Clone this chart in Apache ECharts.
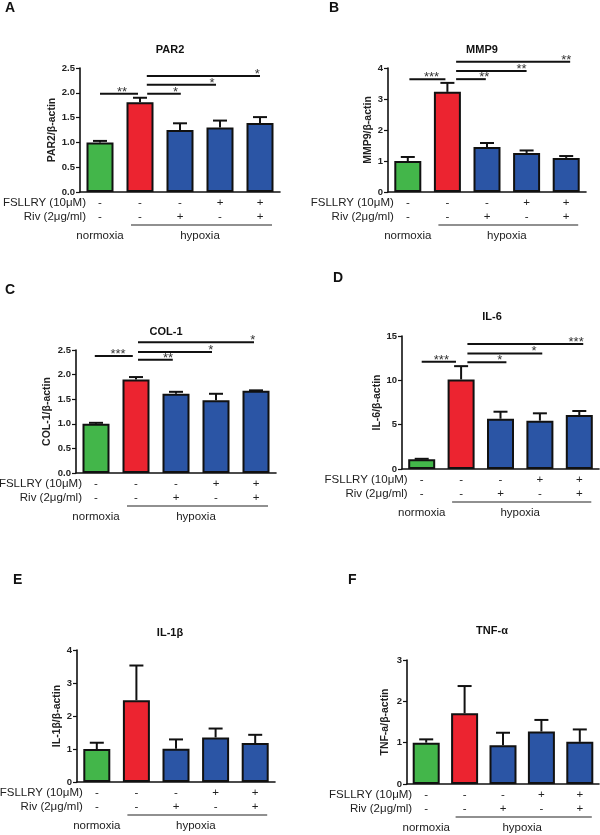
<!DOCTYPE html>
<html>
<head>
<meta charset="utf-8">
<script src="https://cdn.jsdelivr.net/npm/echarts@6/dist/echarts.min.js"></script>
<style>
  html, body { margin: 0; padding: 0; background: #fff; }
  #chart { width: 600px; height: 835px; }
</style>
</head>
<body>
<div id="chart"></div>
<script>
  // 处理组
  const groups = ['normoxia', 'hypoxia', 'hypoxia + Riv', 'hypoxia + FSLLRY', 'hypoxia + FSLLRY + Riv']
  const fsllry = ['-', '-', '-', '+', '+']
  const riv = ['-', '-', '+', '-', '+']
  const barColors = ['#43b64a', '#ec2430', '#2b55a5', '#2b55a5', '#2b55a5']

  // 均值 / 误差上限
  const par2Mean = [1.0, 1.81, 1.25, 1.30, 1.39]
  const par2Err = [1.03, 1.90, 1.385, 1.44, 1.51]
  const mmp9Mean = [1.0, 3.23, 1.45, 1.26, 1.10]
  const mmp9Err = [1.13, 3.52, 1.58, 1.34, 1.16]
  const col1Mean = [1.0, 1.90, 1.61, 1.48, 1.67]
  const col1Err = [1.02, 1.95, 1.65, 1.61, 1.68]
  const il6Mean = [1.1, 10.1, 5.67, 5.45, 6.09]
  const il6Err = [1.15, 11.6, 6.46, 6.28, 6.54]
  const il1bMean = [1.0, 2.48, 1.01, 1.35, 1.18]
  const il1bErr = [1.19, 3.53, 1.29, 1.62, 1.43]
  const tnfMean = [1.0, 1.71, 0.94, 1.27, 1.02]
  const tnfErr = [1.08, 2.37, 1.24, 1.55, 1.32]

  // 显著性标记: [起点, 终点, y值, 星号位置, 文字]
  const par2Sig = [[0, 0.95, 1.98, 0.55, '**'], [1.18, 2.02, 1.98, 1.89, '*'], [1.17, 2.9, 2.16, 2.8, '*'], [1.17, 4.0, 2.34, 3.93, '*']]
  const mmp9Sig = [[0.04, 0.95, 3.64, 0.6, '***'], [1.22, 1.97, 3.64, 1.93, '**'], [1.22, 3.0, 3.9, 2.87, '**'], [1.22, 4.1, 4.2, 4.0, '**']]
  const col1Sig = [[-0.03, 0.92, 2.38, 0.55, '***'], [1.05, 1.92, 2.30, 1.8, '**'], [1.05, 2.9, 2.46, 2.87, '*'], [1.05, 3.95, 2.66, 3.92, '*']]
  const il6Sig = [[0, 0.87, 12.1, 0.5, '***'], [1.16, 2.15, 12.03, 1.98, '*'], [1.16, 3.06, 13.04, 2.85, '*'], [1.16, 4.1, 14.1, 3.92, '***']]

  const FONT = '"Liberation Sans", Arial, sans-serif'

  const panels = [
    { letter: 'A', title: 'PAR2', yName: 'PAR2/β-actin', mean: par2Mean, err: par2Err, sig: par2Sig, max: 2.5, interval: 0.5, dec: 1,
      grid: { left: 80, top: 68, width: 200, height: 124 }, titleXY: [170, 50], letterXY: [5, 1], nameGap: 21 },
    { letter: 'B', title: 'MMP9', yName: 'MMP9/β-actin', mean: mmp9Mean, err: mmp9Err, sig: mmp9Sig, max: 4, interval: 1, dec: 0,
      grid: { left: 388, top: 68, width: 198, height: 124 }, titleXY: [482, 50], letterXY: [329, 1], nameGap: 14 },
    { letter: 'C', title: 'COL-1', yName: 'COL-1/β-actin', mean: col1Mean, err: col1Err, sig: col1Sig, max: 2.5, interval: 0.5, dec: 1,
      grid: { left: 76, top: 350, width: 200, height: 123 }, titleXY: [166, 332], letterXY: [5, 283], nameGap: 23 },
    { letter: 'D', title: 'IL-6', yName: 'IL-6/β-actin', mean: il6Mean, err: il6Err, sig: il6Sig, max: 15, interval: 5, dec: 0,
      grid: { left: 402, top: 336, width: 197, height: 133 }, titleXY: [492, 317], letterXY: [333, 271], nameGap: 19 },
    { letter: 'E', title: 'IL-1β', yName: 'IL-1β/β-actin', mean: il1bMean, err: il1bErr, sig: [], max: 4, interval: 1, dec: 0,
      grid: { left: 77, top: 650, width: 198, height: 132 }, titleXY: [170, 633], letterXY: [13, 573], nameGap: 14 },
    { letter: 'F', title: 'TNF-α', yName: 'TNF-a/β-actin', mean: tnfMean, err: tnfErr, sig: [], max: 3, interval: 1, dec: 0,
      grid: { left: 407, top: 660, width: 192, height: 124 }, titleXY: [492, 631], letterXY: [348, 573], nameGap: 16 }
  ]

  function getOption () {
    let option = {
      animation: false,
      backgroundColor: '#fff',
      textStyle: { fontFamily: FONT },
      grid: [],
      xAxis: [],
      yAxis: [],
      series: [],
      graphic: []
    }
    panels.forEach((p, i) => {
      option.grid.push(p.grid)
      option.xAxis.push({
        type: 'category',
        gridIndex: i,
        data: groups,
        axisLine: { lineStyle: { color: '#111', width: 1.6 } },
        axisTick: { alignWithLabel: true, length: 4, lineStyle: { color: '#111', width: 1.2 } },
        axisLabel: {
          interval: 0,
          margin: 4,
          fontSize: 11.5,
          lineHeight: 14,
          color: '#222',
          fontFamily: FONT,
          formatter: function (value, index) {
            return fsllry[index] + '\n' + riv[index]
          }
        }
      })
      option.yAxis.push({
        type: 'value',
        gridIndex: i,
        min: 0,
        max: p.max,
        interval: p.interval,
        name: p.yName,
        nameLocation: 'middle',
        nameRotate: 90,
        nameGap: p.nameGap,
        nameTextStyle: { fontSize: 10.5, fontWeight: 'bold', color: '#222', fontFamily: FONT },
        splitLine: { show: false },
        axisLine: { show: true, lineStyle: { color: '#111', width: 1.6 } },
        axisTick: { show: true, length: 4, lineStyle: { color: '#111', width: 1.2 } },
        axisLabel: {
          margin: 5,
          fontSize: 9.5,
          fontWeight: 'bold',
          color: '#222',
          fontFamily: FONT,
          formatter: function (v) { return v.toFixed(p.dec) }
        }
      })
      // 柱子
      option.series.push({
        type: 'bar',
        xAxisIndex: i,
        yAxisIndex: i,
        barWidth: 27,
        data: p.mean,
        itemStyle: {
          color: function (params) { return barColors[params.dataIndex] },
          borderColor: '#111',
          borderWidth: 2
        },
        z: 2
      })
      // 误差线
      option.series.push({
        type: 'custom',
        xAxisIndex: i,
        yAxisIndex: i,
        encode: { x: 0, y: [1, 2] },
        data: p.mean.map((m, k) => [k, m, p.err[k]]),
        z: 3,
        renderItem: function (params, api) {
          const base = api.coord([api.value(0), api.value(1)])
          const top = api.coord([api.value(0), api.value(2)])
          const half = 7
          const st = { stroke: '#111', lineWidth: 2 }
          return {
            type: 'group',
            children: [
              { type: 'line', shape: { x1: base[0], y1: base[1], x2: top[0], y2: top[1] }, style: st },
              { type: 'line', shape: { x1: top[0] - half, y1: top[1], x2: top[0] + half, y2: top[1] }, style: st }
            ]
          }
        }
      })
      // 显著性标记
      if (p.sig.length) {
        option.series.push({
          type: 'custom',
          xAxisIndex: i,
          yAxisIndex: i,
          clip: false,
          encode: { x: 0, y: 4 },
          data: p.sig.map(s => [0, s[0], s[1], s[3], s[2]]),
          z: 4,
          renderItem: function (params, api) {
            const s = p.sig[params.dataIndex]
            const c0 = api.coord([0, s[2]])
            const c1 = api.coord([1, s[2]])
            const bw = c1[0] - c0[0]
            const y = c0[1]
            return {
              type: 'group',
              children: [
                { type: 'line', shape: { x1: c0[0] + s[0] * bw, y1: y, x2: c0[0] + s[1] * bw, y2: y }, style: { stroke: '#111', lineWidth: 2 } },
                { type: 'text', style: { text: s[4], x: c0[0] + s[3] * bw, y: y + 5, align: 'center', verticalAlign: 'bottom', font: '13px ' + FONT, fill: '#333' } }
              ]
            }
          }
        })
      }
      // 行标签与常氧/缺氧分组
      option.series.push({
        type: 'custom',
        xAxisIndex: i,
        yAxisIndex: i,
        clip: false,
        silent: true,
        data: [[0, 0]],
        renderItem: function (params, api) {
          const c = [0, 1, 2, 3, 4].map(k => api.coord([k, 0])[0])
          const ay = api.coord([0, 0])[1]
          const f = '11.5px ' + FONT
          return {
            type: 'group',
            children: [
              { type: 'text', style: { text: 'FSLLRY (10μM)', x: c[0] - 14, y: ay + 11, align: 'right', verticalAlign: 'middle', font: f, fill: '#222' } },
              { type: 'text', style: { text: 'Riv (2μg/ml)', x: c[0] - 14, y: ay + 25, align: 'right', verticalAlign: 'middle', font: f, fill: '#222' } },
              { type: 'line', shape: { x1: c[1] - 9, y1: ay + 33, x2: c[4] + 12, y2: ay + 33 }, style: { stroke: '#222', lineWidth: 1.2 } },
              { type: 'text', style: { text: 'normoxia', x: c[0], y: ay + 44, align: 'center', verticalAlign: 'middle', font: f, fill: '#222' } },
              { type: 'text', style: { text: 'hypoxia', x: (c[2] + c[3]) / 2, y: ay + 44, align: 'center', verticalAlign: 'middle', font: f, fill: '#222' } }
            ]
          }
        }
      })
      // 标题和字母
      option.graphic.push({
        type: 'text',
        x: p.titleXY[0],
        y: p.titleXY[1],
        style: { text: p.title, align: 'center', verticalAlign: 'middle', font: 'bold 11px ' + FONT, fill: '#111' }
      })
      option.graphic.push({
        type: 'text',
        x: p.letterXY[0],
        y: p.letterXY[1],
        style: { text: p.letter, align: 'left', verticalAlign: 'top', font: 'bold 14px ' + FONT, fill: '#111' }
      })
    })
    return option
  }

  const myChart = echarts.init(document.getElementById('chart'), null, { renderer: 'canvas' })
  myChart.setOption(getOption())
</script>
</body>
</html>
